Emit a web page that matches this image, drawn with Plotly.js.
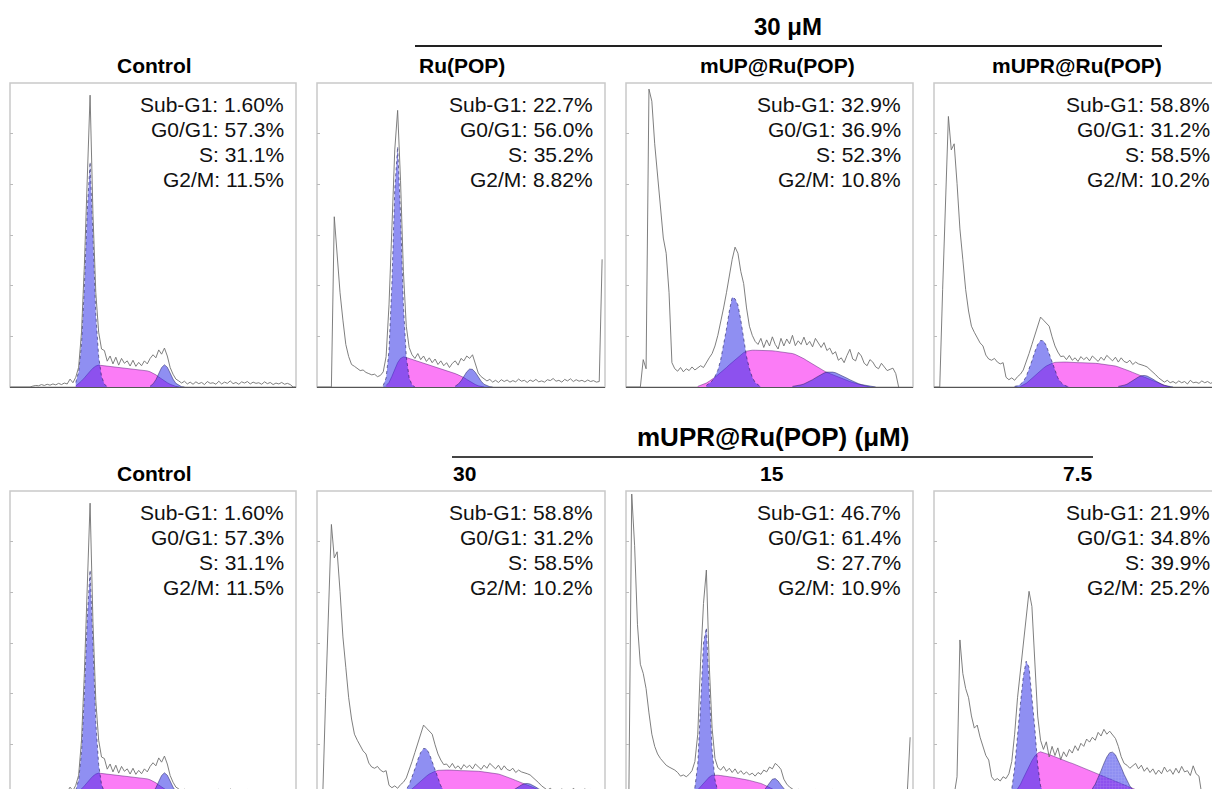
<!DOCTYPE html>
<html>
<head>
<meta charset="utf-8">
<script src="https://cdn.plot.ly/plotly-3.0.1.min.js"></script>
<style>
html,body{margin:0;padding:0;overflow:hidden;background:#fff}
#chart{width:1232px;height:800px}
</style>
</head>
<body>
<div id="chart"></div>
<script>
// ---------------- DATA ----------------
// DNA-content channel grid (0..100 across each histogram)
const channels = Array.from({length: 101}, (_, i) => i);

// Raw histograms (counts, % of full scale) for channels 0..100
const rawControl = [
  0,0,0,0,0,0,0,0,0.3,0.5,
  0.4,0.8,0.5,0.9,0.6,1.0,0.7,1.2,0.8,1.3,
  1.0,2.6,1.4,3.2,6.5,18,40,67,96,57,
  31,18,12.5,12,8.5,10.2,7.6,9.8,7.2,9.4,
  7.8,8.6,6.9,8.8,6.8,8.1,7.0,8.6,7.6,9.4,
  10.6,9.6,12.2,10.8,12.8,10.2,6.4,4.2,2.6,2.0,
  1.3,1.9,1.0,1.6,0.9,1.7,1.1,1.5,0.8,1.8,
  1.2,1.4,0.9,1.9,1.0,1.6,1.2,2.0,1.1,1.5,
  0.9,1.7,1.3,1.8,1.0,1.6,1.2,1.4,0.9,1.7,
  1.1,1.5,0.8,1.3,1.0,1.5,0.9,1.2,0.8,0,
  0];
const rawRu = [
  0,0,0,0,0,0,56,42,31,22,
  14,10,7.4,6.8,6.2,5.4,5.6,4.8,4.4,4.0,
  4.2,3.4,3.8,5.0,10,27,52,78,91,68,
  38,20,13,10.6,9.4,11.0,9.0,10.2,8.4,9.6,
  8.0,9.2,7.4,8.6,7.0,8.0,6.4,7.8,8.6,7.2,
  9.4,8.6,10.2,9.4,10.6,7.6,4.6,3.4,2.6,2.0,
  2.5,1.6,2.2,1.5,2.4,1.8,2.3,1.6,2.1,1.7,
  2.6,1.9,2.2,1.5,2.3,1.8,2.5,1.7,2.0,1.6,
  2.4,2.1,2.8,1.9,2.2,1.6,2.5,2.0,2.7,1.8,
  2.4,1.9,2.2,1.7,2.3,1.8,2.1,1.6,1.8,42,
  null];
const rawMUP = [
  0,0,0,0,0,0,9,6,98,94,
  80,70,60,49,44,31,8,6.0,5.2,6.4,
  5.0,6.0,5.4,6.6,5.6,6.4,7.0,6.4,8.2,9.6,
  11,13.5,17,21,26,31,37,42,46,44,
  38,34,26,20,17,15,14,16,13,15.5,
  13.5,16.5,14,12.5,16,13.5,15.8,14.2,17,13.6,
  15.2,14,16.4,13.8,15,13.2,16,14.4,13,14.6,
  12,12.8,10.8,11.6,8.8,9.6,8.0,10.4,12.4,9.2,
  8.6,11.4,10.2,7.8,7.0,9.0,8.2,6.6,6.0,7.8,
  6.6,5.4,5.8,6.2,4.4,0,null,null,null,null,
  null];
const rawMUPR30 = [
  0,0,0,32,62,89,78,80,67,52,
  42,32,25,20,18,16,14.5,13.5,10.5,9.2,
  8.8,9.4,8.2,7.6,8.0,3.2,2.4,3.0,2.2,3.4,
  4.2,5.6,8,11,14,17,20,23,22,21,
  20,16.5,13.5,11.5,10,10.2,9.0,10.4,8.8,9.6,
  8.4,10,9,9.8,8.6,10.2,9.2,8.4,9.8,8.8,
  10.4,9.4,8.6,9.8,8.2,9.6,8.4,8.0,8.8,7.4,
  8.2,7.6,7.4,7.0,6.6,5.8,4.8,4.0,3.0,2.4,
  1.6,2.2,1.4,1.8,1.2,2.0,1.4,1.8,1.0,2.2,
  1.4,1.6,1.2,2.0,1.4,1.8,1.2,1.6,1.0,1.4,
  1.2];
const rawMUPR15 = [
  0,0,99,82,56,43,40,35,27,20,
  16,13.5,12,11,9.8,9.2,8.8,8.2,7.4,6.2,
  6.6,6.0,6.8,8.0,11,20,44,63,74,43,
  22,12,9.0,8.2,9.4,7.8,8.8,7.4,8.6,7.0,
  8.0,6.8,7.6,6.6,7.2,6.2,7.4,6.8,8.2,7.6,
  9.2,8.6,10.4,9.6,8.4,5.2,3.6,2.6,2.0,1.4,
  1.9,1.2,1.7,1.0,1.6,1.1,1.8,1.2,1.5,0.9,
  1.6,1.1,1.8,1.0,1.4,0.9,1.7,1.2,1.5,0.8,
  1.3,1.0,1.6,1.1,1.4,0.9,1.5,1.0,1.3,0.8,
  1.2,0.9,1.4,1.0,1.3,0.8,1.1,0.9,0.6,19,
  null];
const rawMUPR75 = [
  0,0,0,0,0,0,0,0,6,51,
  40,35,32,26,22,23,19,16,13,11.5,
  6,4.8,5.4,4.6,6.0,5.4,7.0,11,20,32,
  41,51,60,67,62,42,26,18,15,17.5,
  12.5,16,13,15.5,11.6,14.2,12.6,15,13.8,16.2,
  14.6,17,16,18.4,17.4,19,18,20.6,19.4,21.6,
  20,21,19.6,18.6,16,12.6,10.4,9.8,8.8,9.6,
  10.4,8.6,9.8,7.8,9.0,7.4,8.6,6.8,8.2,7.0,
  9.2,7.6,8.4,6.8,8.8,7.2,9.4,7.6,8.0,6.4,
  9.6,7.0,6.2,0,null,null,null,null,null,null,
  null];

// Fitted components: first channel + heights (G0/G1, S, G2/M)
const controlG1 = {from: 23, y: [1.5,5,14,33,58,74,50,24,10,3.5,1,0]};
const controlS  = {from: 23, y: [0.3,1,2,3,4.2,5.2,6.2,6.9,7.2,7.1,7.0,6.9,6.8,6.7,6.6,6.4,6.3,6.2,6.1,6.0,5.9,5.8,5.7,5.6,5.4,5.3,5.0,4.6,4.0,3.3,2.6,2.0,1.4,0.9,0.5,0.2,0]};
const controlG2 = {from: 49, y: [0.3,1.0,2.4,4.4,6.4,7.3,6.5,4.6,2.6,1.2,0.5,0.1,0]};

const ruG1 = {from: 23, y: [0.5,3,12,34,65,79,57,27,10,3,0.7,0]};
const ruS  = {from: 24, y: [0.5,1.5,3.5,6,8,9.4,9.9,9.7,9.4,9.1,8.8,8.5,8.2,7.9,7.6,7.3,7.0,6.7,6.4,6.1,5.8,5.5,5.1,4.8,4.4,4.0,3.6,3.1,2.5,1.9,1.3,0.8,0.4,0.1,0]};
const ruG2 = {from: 48, y: [0.3,0.9,2.0,3.5,5.0,5.9,5.8,4.8,3.3,1.9,0.9,0.4,0.1,0]};

const mupG1 = {from: 28, y: [0.5,1.2,2,3.5,5.5,9,13.5,19,25,29.5,29,27,22,15.5,10,6,3.2,1.5,0.6,0]};
const mupS  = {from: 25, y: [0.2,0.5,0.9,1.3,1.9,2.5,3.2,4.0,4.7,5.5,6.4,7.3,8.1,9.0,9.9,10.7,11.3,11.8,12.0,12.1,
                             12.1,12.1,12.0,12.0,12.0,11.9,11.9,11.8,11.7,11.6,11.5,11.4,11.2,11.0,10.7,10.3,9.8,9.3,8.7,8.1,
                             7.5,6.9,6.3,5.8,5.3,4.8,4.4,4.0,3.6,3.2,2.8,2.5,2.1,1.8,1.5,1.2,0.9,0.6,0.4,0.2,0]};
const mupG2 = {from: 58, y: [0.2,0.3,0.5,0.7,1.0,1.4,1.9,2.4,3.0,3.6,4.1,4.6,4.9,5.0,4.9,4.7,4.3,3.9,3.4,2.9,2.4,1.9,1.5,1.1,0.8,0.6,0.4,0.2,0.1,0]};

const mupr30G1 = {from: 28, y: [0.2,0.4,0.9,1.8,3.4,5.8,8.6,11.6,14.0,15.3,15.2,13.6,11.0,8.0,5.2,3.0,1.6,0.7,0.3,0]};
const mupr30S  = {from: 30, y: [0.2,0.6,1.2,2.0,2.9,3.8,4.7,5.5,6.2,6.9,7.4,7.8,8.1,8.2,
                                8.2,8.2,8.2,8.1,8.1,8.1,8.0,8.0,8.0,7.9,7.9,7.8,7.8,7.7,7.6,7.5,7.4,
                                7.3,7.1,6.9,6.6,6.3,6.0,5.6,5.2,4.8,4.4,4.0,3.7,3.3,2.9,2.5,2.1,1.7,1.3,0.9,0.6,0.3,0]};
const mupr30G2 = {from: 64, y: [0.2,0.3,0.6,0.9,1.5,2.1,2.8,3.3,3.7,3.8,3.6,3.2,2.6,2.0,1.4,0.9,0.5,0.3,0.1,0]};

const mupr15G1 = {from: 23, y: [0.5,2.5,10,28,50,55,36,15,5,1.2,0]};
const mupr15S  = {from: 23, y: [0.2,0.8,1.7,2.8,3.9,5.0,5.9,6.5,6.6,6.5,6.4,6.3,6.1,6.0,5.8,5.7,5.5,5.4,5.2,5.0,4.8,4.6,4.4,4.1,3.8,3.4,3.0,2.5,2.0,1.5,1.0,0.6,0.3,0.1,0]};
const mupr15G2 = {from: 46, y: [0.2,0.6,1.4,2.6,4.0,5.2,5.4,4.6,3.3,2.0,1.0,0.4,0.1,0]};

const mupr75G1 = {from: 26, y: [0.5,2,9,20,30,39,44,42,33,22,10,3,0.8,0]};
const mupr75S  = {from: 28, y: [0.5,1.8,3.5,5.5,7.5,9.5,11.3,12.8,13.8,14.2,14.0,13.6,13.3,12.9,12.5,12.2,11.8,11.5,11.1,10.7,10.4,10.0,
                                9.6,9.2,8.9,8.5,8.2,7.8,7.4,7.0,6.6,6.2,5.8,5.4,5.0,4.6,4.2,3.8,3.4,3.0,2.6,2.2,1.8,1.4,1.0,0.7,0.4,0.2,0]};
const mupr75G2 = {from: 52, y: [0.2,0.5,1.1,2.1,3.6,5.6,8.0,10.4,12.5,13.9,14.1,13.2,11.4,9.1,6.8,4.7,3.0,1.8,1.0,0.5,0.2,0.1,0]};

// Text
const phaseLabels = ['Sub-G1', 'G0/G1', 'S', 'G2/M'];
const statsControl = ['1.60', '57.3', '31.1', '11.5'];
const statsRu      = ['22.7', '56.0', '35.2', '8.82'];
const statsMUP     = ['32.9', '36.9', '52.3', '10.8'];
const statsMUPR30  = ['58.8', '31.2', '58.5', '10.2'];
const statsMUPR15  = ['46.7', '61.4', '27.7', '10.9'];
const statsMUPR75  = ['21.9', '34.8', '39.9', '25.2'];
const titlesRow1 = ['Control', 'Ru(POP)', 'mUP@Ru(POP)', 'mUPR@Ru(POP)'];
const titlesRow2 = ['Control', '30', '15', '7.5'];
const header1 = '30 μM';
const header2 = 'mUPR@Ru(POP) (μM)';

// ---------------- LAYOUT ----------------
const W = 1232, H = 800;
const colL = [10, 317, 626, 934], colR = [296, 605, 913, 1222];
const rowT = [83, 491], rowB = [387, 795];
const px = v => v / W, py = v => 1 - v / H;

const sets = {
  control: {raw: rawControl, g1: controlG1, s: controlS, g2: controlG2, stats: statsControl},
  ru:      {raw: rawRu, g1: ruG1, s: ruS, g2: ruG2, stats: statsRu},
  mup:     {raw: rawMUP, g1: mupG1, s: mupS, g2: mupG2, stats: statsMUP},
  mupr30:  {raw: rawMUPR30, g1: mupr30G1, s: mupr30S, g2: mupr30G2, stats: statsMUPR30},
  mupr15:  {raw: rawMUPR15, g1: mupr15G1, s: mupr15S, g2: mupr15G2, stats: statsMUPR15},
  mupr75:  {raw: rawMUPR75, g1: mupr75G1, s: mupr75S, g2: mupr75G2, stats: statsMUPR75, hatchG2: true}
};
const grid = [['control','ru','mup','mupr30'], ['control','mupr30','mupr15','mupr75']];

const FONT = '"Liberation Sans", Arial, Helvetica, sans-serif';
const MAGENTA = '#fb7cf6';
const BLUE = 'rgba(43,43,230,0.53)';
const seg = c => ({x: c.y.map((_, i) => c.from + i), y: c.y});

const traces = [], shapes = [], annotations = [];
const layout = {
  width: W, height: H, margin: {l: 0, r: 0, t: 0, b: 0},
  paper_bgcolor: '#fff', plot_bgcolor: '#fff', showlegend: false,
  font: {family: FONT, color: '#000'}
};

let k = 0;
grid.forEach((row, r) => {
  row.forEach((key, c) => {
    k++;
    const d = sets[key];
    const xa = k === 1 ? 'x' : 'x' + k, ya = k === 1 ? 'y' : 'y' + k;
    layout['xaxis' + (k === 1 ? '' : k)] = {
      domain: [px(colL[c]), px(colR[c])], range: [0, 100], anchor: ya,
      showgrid: false, zeroline: false, showticklabels: false, ticks: '',
      showline: true, linecolor: '#555', linewidth: 1, fixedrange: true
    };
    layout['yaxis' + (k === 1 ? '' : k)] = {
      domain: [py(rowB[r]), py(rowT[r])], range: [0, 100], anchor: xa,
      showgrid: false, zeroline: false, showticklabels: false,
      ticks: 'inside', ticklen: 3, tickcolor: '#bbb', tickwidth: 1, tick0: 0, dtick: 100 / 6,
      showline: false, fixedrange: true
    };
    const s = seg(d.s), g1 = seg(d.g1), g2 = seg(d.g2);
    traces.push({x: s.x, y: s.y, xaxis: xa, yaxis: ya, type: 'scatter', mode: 'lines',
      fill: 'tozeroy', fillcolor: MAGENTA, line: {color: 'rgba(90,30,120,0.7)', width: 0.7}, hoverinfo: 'skip'});
    traces.push({x: g1.x, y: g1.y, xaxis: xa, yaxis: ya, type: 'scatter', mode: 'lines',
      fill: 'tozeroy', fillcolor: BLUE, line: {color: 'rgba(30,30,90,0.75)', width: 0.8, dash: 'dot'}, hoverinfo: 'skip'});
    const g2trace = {x: g2.x, y: g2.y, xaxis: xa, yaxis: ya, type: 'scatter', mode: 'lines',
      fill: 'tozeroy', fillcolor: BLUE, line: {color: 'rgba(30,30,90,0.7)', width: 0.7}, hoverinfo: 'skip'};
    if (d.hatchG2) {
      g2trace.fillpattern = {shape: '+', size: 3, solidity: 0.3, fgcolor: 'rgba(255,255,255,0.3)', fillmode: 'overlay'};
    }
    traces.push(g2trace);
    traces.push({x: channels, y: d.raw, xaxis: xa, yaxis: ya, type: 'scatter', mode: 'lines',
      line: {color: 'rgb(112,112,112)', width: 0.9}, connectgaps: false, hoverinfo: 'skip'});
    // panel frame
    shapes.push({type: 'rect', xref: xa + ' domain', yref: ya + ' domain', x0: 0, x1: 1, y0: 0, y1: 1,
      line: {color: '#c9c9c9', width: 1.5}, layer: 'below'});
    // stats
    d.stats.forEach((v, i) => {
      annotations.push({xref: 'paper', yref: 'paper', x: px(colR[c] - 11), y: py(rowT[r] + 21 + 25 * i),
        xanchor: 'right', yanchor: 'middle', showarrow: false, borderpad: 0,
        text: phaseLabels[i] + ': ' + v + '%', font: {family: FONT, size: 21, color: '#111'}});
    });
  });
});

// panel titles
const titleSpec = [
  [[titlesRow1[0], 154, 'center'], [titlesRow1[1], 418, 'left'], [titlesRow1[2], 777, 'center'], [titlesRow1[3], 1163, 'right']],
  [[titlesRow2[0], 154, 'center'], [titlesRow2[1], 452, 'left'], [titlesRow2[2], 772, 'center'], [titlesRow2[3], 1094, 'right']]
];
titleSpec.forEach((row, r) => row.forEach(([t, x, anc]) => {
  annotations.push({xref: 'paper', yref: 'paper', x: px(x), y: py(rowT[r] - 17.5), xanchor: anc, yanchor: 'middle',
    showarrow: false, borderpad: 0, text: '<b>' + t + '</b>', font: {family: FONT, size: 21, color: '#000'}});
}));
// group headers + rules
annotations.push({xref: 'paper', yref: 'paper', x: px(788), y: py(26.5), xanchor: 'center', yanchor: 'middle',
  showarrow: false, borderpad: 0, text: '<b>' + header1 + '</b>', font: {family: FONT, size: 24, color: '#000'}});
annotations.push({xref: 'paper', yref: 'paper', x: px(773), y: py(437), xanchor: 'center', yanchor: 'middle',
  showarrow: false, borderpad: 0, text: '<b>' + header2 + '</b>', font: {family: FONT, size: 26, color: '#000'}});
shapes.push({type: 'line', xref: 'paper', yref: 'paper', x0: px(415), x1: px(1162), y0: py(46), y1: py(46),
  line: {color: '#222', width: 2}});
shapes.push({type: 'line', xref: 'paper', yref: 'paper', x0: px(452), x1: px(1093), y0: py(457), y1: py(457),
  line: {color: '#444', width: 2}});

layout.shapes = shapes;
layout.annotations = annotations;

Plotly.newPlot('chart', traces, layout, {displayModeBar: false, staticPlot: true, responsive: false});
</script>
</body>
</html>
